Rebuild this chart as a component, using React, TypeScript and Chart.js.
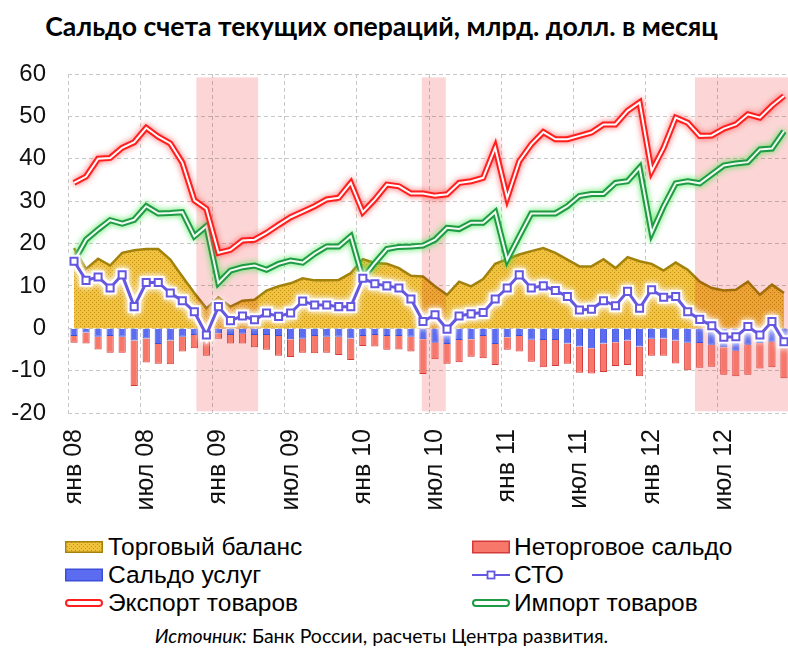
import { useEffect, useRef } from 'react';
import { Chart, registerables } from 'chart.js';

Chart.register(...registerables);

// ---------- data ----------
const monthNames = ['янв', 'фев', 'мар', 'апр', 'май', 'июн', 'июл', 'авг', 'сен', 'окт', 'ноя', 'дек'];
const years = ['08', '09', '10', '11', '12'];
const categories = years.flatMap((y) => monthNames.map((m) => `${m} ${y}`));

// Торговый баланс
const tradeBalance = [
  18.9, 14.0, 16.4, 14.8, 17.8, 18.4, 18.7, 18.7, 16.2, 12.2, 8.3, 4.7,
  7.3, 5.1, 6.5, 6.7, 8.9, 9.9, 10.6, 11.8, 11.3, 11.3, 11.4, 13.0,
  16.3, 15.4, 15.2, 14.2, 12.4, 12.2, 9.9, 7.9, 11.0, 9.9, 11.6, 15.2,
  16.3, 17.4, 18.2, 18.9, 17.8, 16.2, 14.6, 14.6, 16.3, 14.2, 16.8, 15.8,
  15.2, 13.6, 15.5, 13.8, 11.0, 9.5, 8.9, 9.1, 11.0, 7.9, 10.3, 8.3,
];
// Сальдо услуг
const servicesBalance = [
  -1.8, -1.0, -2.0, -1.8, -2.0, -2.9, -2.4, -3.7, -2.9, -2.0, -1.6, -2.5,
  -1.2, -1.6, -1.3, -1.6, -1.6, -1.8, -2.6, -2.5, -1.8, -2.0, -2.0, -2.4,
  -1.8, -1.6, -1.8, -1.8, -2.0, -2.6, -3.4, -3.7, -2.8, -2.6, -1.8, -3.7,
  -2.1, -1.8, -2.7, -2.8, -2.8, -3.6, -4.3, -4.7, -3.6, -3.3, -2.9, -4.3,
  -2.5, -2.4, -2.9, -3.4, -3.5, -3.9, -4.5, -5.3, -3.9, -3.5, -3.2, -3.6,
];
// Неторговое сальдо
const nonTradeBalance = [
  -1.6, -2.6, -3.0, -4.0, -3.8, -10.7, -5.7, -4.7, -5.6, -3.5, -3.1, -4.0,
  -1.3, -2.0, -2.3, -2.9, -3.5, -4.7, -4.2, -3.3, -4.1, -3.8, -4.3, -5.1,
  -2.4, -2.7, -3.3, -3.2, -3.5, -8.2, -3.9, -4.7, -5.2, -4.1, -5.3, -5.0,
  -3.0, -3.7, -5.2, -6.4, -6.1, -4.8, -6.2, -6.0, -6.7, -5.6, -5.8, -7.0,
  -4.0, -4.1, -5.4, -6.5, -5.8, -5.2, -6.5, -6.0, -7.1, -6.0, -6.0, -8.2,
];
// СТО
const currentAccount = [
  15.8, 11.3, 12.1, 9.5, 12.6, 5.1, 10.8, 10.8, 8.3, 6.5, 3.9, -1.6,
  5.1, 1.8, 2.9, 2.0, 3.6, 2.8, 3.6, 6.4, 5.5, 5.5, 5.1, 5.1,
  11.8, 10.5, 10.0, 9.5, 6.9, 1.6, 3.2, -0.2, 2.9, 3.4, 3.7, 6.9,
  9.5, 12.6, 9.5, 10.0, 8.9, 7.5, 4.3, 4.5, 6.5, 5.3, 8.7, 4.7,
  9.1, 7.3, 7.5, 3.9, 2.1, 0.6, -2.1, -2.0, 0.4, -1.6, 1.6, -3.2,
];
// Экспорт товаров
const exportGoods = [
  34.3, 35.8, 40.0, 40.2, 42.6, 43.9, 47.3, 45.2, 43.6, 39.1, 30.2, 28.2,
  17.8, 18.5, 20.7, 20.9, 22.5, 24.4, 26.2, 27.5, 28.8, 30.4, 30.8, 34.3,
  27.4, 30.4, 33.9, 33.5, 31.8, 31.8, 31.3, 31.6, 34.3, 34.7, 35.5, 42.6,
  30.8, 39.4, 43.4, 46.3, 44.6, 44.6, 45.4, 46.2, 48.1, 48.1, 51.3, 53.3,
  37.1, 42.6, 49.7, 48.5, 45.4, 45.5, 47.1, 48.1, 50.5, 49.7, 52.5, 54.8,
];
// Импорт товаров
const importGoods = [
  15.8, 20.9, 23.3, 25.5, 24.7, 25.6, 28.8, 27.1, 27.2, 27.4, 21.7, 24.1,
  10.7, 13.6, 14.4, 14.8, 13.8, 15.2, 16.0, 15.5, 17.6, 19.3, 19.3, 21.7,
  11.8, 15.4, 18.7, 19.2, 19.3, 19.5, 20.9, 23.7, 23.4, 24.9, 24.9, 27.4,
  16.2, 21.7, 27.1, 27.1, 27.1, 28.8, 31.2, 31.7, 31.7, 34.3, 34.7, 37.9,
  22.5, 28.8, 34.2, 34.7, 34.2, 36.3, 38.4, 38.9, 39.2, 42.2, 42.4, 46.5,
];

const yMin = -20;
const yMax = 60;
const yStep = 10;
const labelEvery = 6;
// shaded periods, in month-index units
const shadeRanges = [
  [10.17, 15.3],
  [28.9, 30.9],
  [51.6, 60],
];
const shadeValueRange = [-19.6, 59.2];

const legendLeft = ['Торговый баланс', 'Сальдо услуг', 'Экспорт товаров'];
const legendRight = ['Неторговое сальдо', 'СТО', 'Импорт товаров'];

// ---------- styles ----------
const C = {
  goldBase: '#f0c23e',
  goldDot: '#c4921a',
  goldLine: '#a3820c',
  red: '#f7786b',
  redBorder: '#d43a3a',
  blue: '#5b6cf0',
  blueBorder: '#3c4fd8',
  cto: '#6657e0',
  exp: '#ff1f1f',
  imp: '#1f9a45',
  grid: '#c8c8c8',
  shade: 'rgb(252,214,214)',
};

const Y_FONT = { family: 'Liberation Sans, Arial, sans-serif', size: 24 };
const X_FONT = { family: 'Liberation Sans, Arial, sans-serif', size: 25 };

function LegendSymbol({ kind }: { kind: string }) {
  const w = 38;
  const h = 14;
  if (kind === 'Торговый баланс') {
    return (
      <svg width={w} height={h}>
        <defs>
          <pattern id="dots" width="4" height="4" patternUnits="userSpaceOnUse">
            <rect width="4" height="4" fill={C.goldBase} />
            <rect width="1" height="1" fill={C.goldDot} />
            <rect x="2" y="2" width="1" height="1" fill={C.goldDot} />
          </pattern>
        </defs>
        <rect x={0.75} y={1.75} width={36.5} height={10.5} fill="url(#dots)" stroke={C.goldLine} strokeWidth={1.5} />
      </svg>
    );
  }
  if (kind === 'Неторговое сальдо') {
    return (
      <svg width={w} height={h}>
        <rect x={0.75} y={1.25} width={36.5} height={11.5} fill={C.red} stroke={C.redBorder} strokeWidth={1.5} />
      </svg>
    );
  }
  if (kind === 'Сальдо услуг') {
    return (
      <svg width={w} height={h}>
        <rect x={0.75} y={1.25} width={36.5} height={11.5} fill={C.blue} stroke={C.blueBorder} strokeWidth={1.5} />
      </svg>
    );
  }
  if (kind === 'СТО') {
    return (
      <svg width={w} height={h}>
        <line x1={0} y1={7} x2={38} y2={7} stroke={C.cto} strokeWidth={2} />
        <rect x={15.5} y={3.5} width={7} height={7} fill="#fff" stroke={C.cto} strokeWidth={1.8} />
      </svg>
    );
  }
  const col = kind === 'Экспорт товаров' ? C.exp : C.imp;
  return (
    <svg width={w} height={h}>
      <rect x={1} y={4} width={36} height={6} rx={3} fill="#fff" stroke={col} strokeWidth={2} />
    </svg>
  );
}

export default function App() {
  const ref = useRef<HTMLCanvasElement>(null);

  useEffect(() => {
    document.body.style.margin = '0';
    const canvas = ref.current!;
    const pc = document.createElement('canvas');
    pc.width = 4;
    pc.height = 4;
    const p = pc.getContext('2d')!;
    p.fillStyle = C.goldBase;
    p.fillRect(0, 0, 4, 4);
    p.fillStyle = C.goldDot;
    p.fillRect(0, 0, 1, 1);
    p.fillRect(2, 2, 1, 1);
    const pattern = canvas.getContext('2d')!.createPattern(pc, 'repeat');

    const effects = {
      id: 'effects',
      beforeDatasetDraw(chart: any, args: any) {
        const ds = chart.data.datasets[args.index];
        if (ds.glowColor) {
          const ctx = chart.ctx;
          ctx.save();
          ctx.shadowColor = ds.glowColor;
          ctx.shadowBlur = ds.glowBlur;
        }
      },
      afterDatasetDraw(chart: any, args: any) {
        const ds = chart.data.datasets[args.index];
        const ctx = chart.ctx;
        if (ds.glowColor) ctx.restore();
        if (ds.key === 'trade') {
          const xs = chart.scales.x;
          const ys = chart.scales.y;
          const top = ys.getPixelForValue(shadeValueRange[1]);
          const bottom = ys.getPixelForValue(shadeValueRange[0]);
          ctx.save();
          ctx.globalCompositeOperation = 'multiply';
          ctx.fillStyle = C.shade;
          for (const [a, b] of shadeRanges) {
            const x0 = xs.getPixelForValue(a);
            const x1 = xs.getPixelForValue(b);
            ctx.fillRect(x0, top, x1 - x0, bottom - top);
          }
          ctx.restore();
        }
      },
    };

    const lineBase = { type: 'line', pointRadius: 0, tension: 0, fill: false, borderJoinStyle: 'miter' };

    const chart = new Chart(canvas, {
      type: 'bar',
      data: {
        labels: categories,
        datasets: [
          {
            ...lineBase,
            label: 'СТО',
            data: currentAccount,
            stack: 's_cto',
            order: 0,
            borderColor: C.cto,
            borderWidth: 3,
            pointRadius: 5,
            pointStyle: 'rect',
            pointBackgroundColor: '#fff',
            pointBorderColor: C.cto,
            pointBorderWidth: 2,
          },
          {
            ...lineBase,
            label: 'СТО halo',
            data: currentAccount,
            stack: 's_cto_halo',
            order: 0.5,
            borderColor: 'rgba(255,255,255,0.9)',
            borderWidth: 8,
            pointRadius: 7,
            pointStyle: 'rect',
            pointBackgroundColor: 'rgba(255,255,255,0.9)',
            pointBorderColor: 'rgba(255,255,255,0.9)',
            pointBorderWidth: 3,
            glowColor: 'rgba(255,255,255,1)',
            glowBlur: 6,
          },
          {
            ...lineBase,
            label: 'Экспорт товаров',
            data: exportGoods,
            stack: 's_exp_in',
            order: 1,
            borderColor: '#ffffff',
            borderWidth: 2,
          },
          {
            ...lineBase,
            label: 'Экспорт товаров',
            data: exportGoods,
            stack: 's_exp_out',
            order: 2,
            borderColor: C.exp,
            borderWidth: 6,
            glowColor: 'rgba(255,90,90,0.9)',
            glowBlur: 6,
          },
          {
            ...lineBase,
            label: 'Импорт товаров',
            data: importGoods,
            stack: 's_imp_in',
            order: 3,
            borderColor: '#f2fbf2',
            borderWidth: 2,
          },
          {
            ...lineBase,
            label: 'Импорт товаров',
            data: importGoods,
            stack: 's_imp_out',
            order: 4,
            borderColor: C.imp,
            borderWidth: 6,
            glowColor: 'rgba(70,230,80,0.9)',
            glowBlur: 6,
          },
          {
            type: 'bar',
            label: 'Сальдо услуг',
            data: servicesBalance,
            stack: 'bars',
            order: 5,
            backgroundColor: C.blue,
            borderColor: C.blueBorder,
            borderWidth: 1,
            categoryPercentage: 1,
            barPercentage: 0.6,
          },
          {
            type: 'bar',
            label: 'Неторговое сальдо',
            data: nonTradeBalance,
            stack: 'bars',
            order: 6,
            backgroundColor: C.red,
            borderColor: C.redBorder,
            borderWidth: 1,
            categoryPercentage: 1,
            barPercentage: 0.6,
          },
          {
            ...lineBase,
            key: 'trade',
            label: 'Торговый баланс',
            data: tradeBalance,
            stack: 's_trade',
            order: 7,
            fill: 'origin',
            backgroundColor: pattern,
            borderColor: C.goldLine,
            borderWidth: 2.5,
          },
        ] as any,
      },
      options: {
        responsive: false,
        animation: false,
        devicePixelRatio: 1,
        layout: { padding: { top: 24, right: 8, left: 0, bottom: 0 } },
        plugins: { legend: { display: false }, tooltip: { enabled: false } },
        scales: {
          x: {
            type: 'category',
            stacked: true,
            offset: true,
            grid: {
              offset: true,
              drawTicks: false,
              color: (ctx: any) => (ctx.index % labelEvery === 0 ? C.grid : 'rgba(0,0,0,0)'),
            },
            border: { display: false, dash: [4, 3] },
            ticks: {
              autoSkip: false,
              maxRotation: 90,
              minRotation: 90,
              padding: 16,
              color: '#111',
              font: X_FONT,
              callback: (_v: any, i: number) => (i % labelEvery === 0 ? categories[i] : ''),
            },
            afterFit: (s: any) => {
              s.height = 107;
              s.paddingLeft = 0;
              s.paddingRight = 0;
            },
          },
          y: {
            stacked: true,
            min: yMin,
            max: yMax,
            grid: { color: C.grid, drawTicks: false },
            border: { display: false, dash: [4, 3] },
            ticks: { stepSize: yStep, padding: 22, color: '#111', font: Y_FONT },
            afterFit: (s: any) => {
              s.width = 68;
              s.paddingTop = 0;
              s.paddingBottom = 0;
            },
          },
        },
      } as any,
      plugins: [effects],
    });
    return () => chart.destroy();
  }, []);

  const legendFont = {
    fontFamily: 'Liberation Sans, Arial, sans-serif',
    fontSize: 24.5,
    color: '#000',
  };
  const rowTop = [533, 561, 589];

  return (
    <div
      style={{
        position: 'fixed',
        left: 0,
        top: 0,
        width: 788,
        height: 649,
        overflow: 'hidden',
        background: '#fff',
      }}
    >
      <div
        style={{
          position: 'absolute',
          left: 0,
          top: 9,
          width: 763,
          textAlign: 'center',
          fontFamily: 'Lato, sans-serif',
          fontWeight: 700,
          fontSize: 26.6,
          lineHeight: '34px',
          color: '#000',
          whiteSpace: 'nowrap',
        }}
      >
        Сальдо счета текущих операций, млрд. долл. в месяц
      </div>
      <canvas
        ref={ref}
        width={800}
        height={470}
        style={{ position: 'absolute', left: 0, top: 50, width: 800, height: 470 }}
      />
      {legendLeft.map((t, i) => (
        <div
          key={t}
          style={{
            position: 'absolute',
            left: 65,
            top: rowTop[i],
            height: 28,
            display: 'flex',
            alignItems: 'center',
            whiteSpace: 'nowrap',
            ...legendFont,
          }}
        >
          <LegendSymbol kind={t} />
          <span style={{ marginLeft: 5 }}>{t}</span>
        </div>
      ))}
      {legendRight.map((t, i) => (
        <div
          key={t}
          style={{
            position: 'absolute',
            left: 472,
            top: rowTop[i],
            height: 28,
            display: 'flex',
            alignItems: 'center',
            whiteSpace: 'nowrap',
            ...legendFont,
          }}
        >
          <LegendSymbol kind={t} />
          <span style={{ marginLeft: 4 }}>{t}</span>
        </div>
      ))}
      <div
        style={{
          position: 'absolute',
          left: 0,
          top: 624,
          width: 763,
          textAlign: 'center',
          fontFamily: 'Lato, sans-serif',
          fontSize: 19.5,
          lineHeight: '24px',
          color: '#000',
          whiteSpace: 'nowrap',
        }}
      >
        <i>Источник:</i> Банк России, расчеты Центра развития.
      </div>
    </div>
  );
}
